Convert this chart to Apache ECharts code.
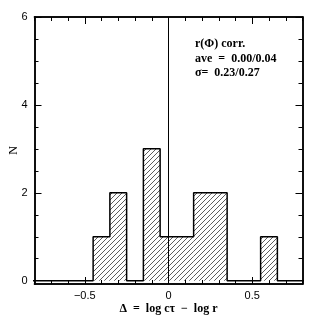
<!DOCTYPE html>
<html>
<head>
<meta charset="utf-8">
<script src="https://cdn.jsdelivr.net/npm/echarts@6/dist/echarts.min.js"></script>
<style>html,body{margin:0;padding:0;background:#fff}#c{width:319px;height:319px}</style>
</head>
<body>
<div id="c"></div>
<script>
// Histogram data (bin centers, width 0.1)
const binCenters = [-0.8,-0.7,-0.6,-0.5,-0.4,-0.3,-0.2,-0.1,0.0,0.1,0.2,0.3,0.4,0.5,0.6,0.7,0.8];
const counts     = [0,0,0,0,1,2,0,3,1,1,2,2,0,0,1,0,0];
const binWidth = 0.1;
const xMajorTicks = [-0.5, 0, 0.5];
const xMinorTicks = [-0.8,-0.7,-0.6,-0.4,-0.3,-0.2,-0.1,0.1,0.2,0.3,0.4,0.6,0.7,0.8];
const yMajorTicks = [0, 2, 4, 6];
const yMinorTicks = [0.5,1,1.5,2.5,3,3.5,4.5,5,5.5];
const annotation = ['r(Φ) corr.', 'ave  =  0.00/0.04', 'σ=  0.23/0.27'];

const XMIN = -0.8, XMAX = 0.8, YMIN = -0.075, YMAX = 6;

// hatch pattern
const tile = 5;
const cv = document.createElement('canvas');
cv.width = tile; cv.height = tile;
const ctx = cv.getContext('2d');
ctx.strokeStyle = '#333';
ctx.lineWidth = 0.8;
ctx.beginPath();
ctx.moveTo(0, tile); ctx.lineTo(tile, 0);
ctx.moveTo(-1, 1); ctx.lineTo(1, -1);
ctx.moveTo(tile - 1, tile + 1); ctx.lineTo(tile + 1, tile - 1);
ctx.stroke();
const hatch = {image: cv, repeat: 'repeat'};

// outline points for step line
const outline = [];
for (let i = 0; i < binCenters.length; i++) outline.push([binCenters[i] - binWidth / 2, counts[i]]);
outline.push([binCenters[binCenters.length - 1] + binWidth / 2, counts[counts.length - 1]]);

const barData = binCenters.map((c, i) => [c, counts[i]]).filter(d => d[1] > 0);

const fmtX = v => v === 0 ? '0' : (v < 0 ? '\u2212' + String(-v) : String(v));
const labelFont = {fontFamily: 'Liberation Sans', fontSize: 11, color: '#000'};

function xAx(pos, major, showLabel) {
  return {
    type: 'value', position: pos, min: XMIN, max: XMAX,
    axisLine: {show: true, onZero: false, lineStyle: {color: '#000', width: 1.5}},
    axisTick: {show: true, inside: true, length: major ? 7 : 4, customValues: major ? xMajorTicks : xMinorTicks, lineStyle: {color: '#000', width: 1}},
    axisLabel: Object.assign({show: showLabel, customValues: xMajorTicks, formatter: fmtX, margin: 6}, labelFont),
    splitLine: {show: false},
    name: showLabel ? 'Δ  =  log cτ  −  log r' : '',
    nameLocation: 'middle', nameGap: 19, nameMoveOverlap: false,
    nameTextStyle: {fontFamily: 'Liberation Serif', fontSize: 12, color: '#000', fontWeight: 'bold'}
  };
}
function yAx(pos, major, showLabel) {
  return {
    type: 'value', position: pos, min: YMIN, max: YMAX,
    axisLine: {show: true, onZero: false, lineStyle: {color: '#000', width: 1.5}},
    axisTick: {show: true, inside: true, length: major ? 7 : 4, customValues: major ? yMajorTicks : yMinorTicks, lineStyle: {color: '#000', width: 1}},
    axisLabel: Object.assign({show: showLabel, customValues: yMajorTicks, margin: 7}, labelFont),
    splitLine: {show: false},
    name: showLabel ? 'N' : '',
    nameLocation: 'middle', nameGap: 15, nameRotate: 90, nameMoveOverlap: false,
    nameTextStyle: {fontFamily: 'Liberation Serif', fontSize: 12, color: '#000'}
  };
}

const chart = echarts.init(document.getElementById('c'), null, {renderer: 'canvas'});
chart.setOption({
  animation: false,
  backgroundColor: '#fff',
  grid: {left: 34.5, right: 16.5, top: 17, bottom: 35, containLabel: false, outerBoundsMode: 'none'},
  xAxis: [xAx('bottom', true, true), xAx('bottom', false, false), xAx('top', true, false), xAx('top', false, false)],
  yAxis: [yAx('left', true, true), yAx('left', false, false), yAx('right', true, false), yAx('right', false, false)],
  graphic: [{
    type: 'text', left: 195, top: 37,
    style: {text: annotation.join('\n'), fontFamily: 'Liberation Serif', fontSize: 12, lineHeight: 14.5, fill: '#000', fontWeight: 'bold'}
  }],
  series: [
    {
      type: 'custom', xAxisIndex: 0, yAxisIndex: 0, clip: true, z: 1,
      data: barData,
      renderItem: function (params, api) {
        const c = api.value(0), h = api.value(1);
        const p0 = api.coord([c - binWidth / 2, 0]);
        const p1 = api.coord([c + binWidth / 2, h]);
        return {type: 'rect', shape: {x: p0[0], y: p1[1], width: p1[0] - p0[0], height: p0[1] - p1[1]}, style: {fill: hatch, stroke: null}};
      }
    },
    {
      type: 'line', xAxisIndex: 0, yAxisIndex: 0, step: 'end', data: outline, showSymbol: false, symbol: 'none', clip: true, z: 3,
      lineStyle: {color: '#000', width: 1.5}
    },
    {
      type: 'line', xAxisIndex: 0, yAxisIndex: 0, data: [[0, YMIN], [0, YMAX]], showSymbol: false, symbol: 'none', z: 4,
      lineStyle: {color: '#000', width: 1}
    }
  ]
});
</script>
</body>
</html>
